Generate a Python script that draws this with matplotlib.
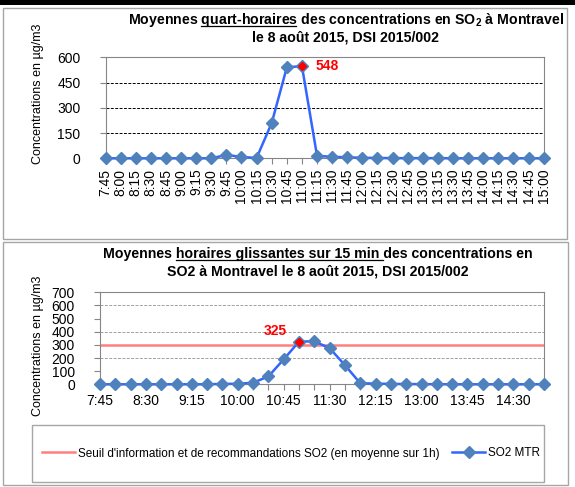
import numpy as np
import matplotlib
matplotlib.use("Agg")
import matplotlib.pyplot as plt
from matplotlib.patches import Rectangle
from matplotlib.lines import Line2D

plt.rcParams['font.family'] = ['Liberation Sans', 'DejaVu Sans']
plt.rcParams['mathtext.fontset'] = 'custom'
plt.rcParams['mathtext.rm'] = 'Liberation Sans:bold'
plt.rcParams['mathtext.bf'] = 'Liberation Sans:bold'
plt.rcParams['mathtext.it'] = 'Liberation Sans:bold'

# heures (pas de 15 min)
heures = ["7:45", "8:00", "8:15", "8:30", "8:45", "9:00", "9:15", "9:30", "9:45", "10:00",
          "10:15", "10:30", "10:45", "11:00", "11:15", "11:30", "11:45", "12:00", "12:15", "12:30",
          "12:45", "13:00", "13:15", "13:30", "13:45", "14:00", "14:15", "14:30", "14:45", "15:00"]
# moyennes quart-horaires SO2
so2_qh = [0, 0, 0, 0, 0, 0, 0, 0, 20, 8,
          2, 210, 540, 548, 14, 9, 6, 3, 2, 1,
          1, 1, 1, 0, 0, 0, 0, 0, 0, 0]
# moyennes horaires glissantes
so2_h = [0, 0, 0, 0, 0, 0, 0, 0, 3, 4,
         12, 60, 190, 325, 327, 275, 145, 8, 5, 3,
         2, 1, 1, 0, 0, 0, 0, 0, 0, 0]
seuil = 300
i_max_qh = 13
i_max_h = 13

W, H = 575, 487
fig = plt.figure(figsize=(W / 100, H / 100), dpi=100)

def fx(px):
    return px / W

def fy(py):
    return 1 - py / H

# bandeau noir + cadres
fig.patches.append(Rectangle((0, fy(5)), 1, 5 / H, transform=fig.transFigure,
                             facecolor='black', edgecolor='none'))
for (x0, y0, x1, y1) in [(3, 8, 567, 239), (3, 242, 568, 485)]:
    fig.patches.append(Rectangle((fx(x0), fy(y1)), (x1 - x0) / W, (y1 - y0) / H,
                                 transform=fig.transFigure, facecolor='none',
                                 edgecolor='#A6A6A6', lw=1))

blue = '#3366FF'
mk = '#4F81BD'
grey = '#868686'
x = np.arange(len(heures))

def style_axes(ax):
    for s in ax.spines.values():
        s.set_color(grey)
        s.set_linewidth(0.8)
    ax.tick_params(axis='both', colors=grey, labelcolor='black', labelsize=10, length=4, width=0.8)

# --- graphique 1 ---
ax1 = fig.add_axes([fx(105.5), fy(158.3), (543.7 - 105.5) / W, (158.3 - 57.3) / H])
for yv in [150, 300, 450]:
    ax1.axhline(yv, color='black', ls=(0, (3, 1.5)), lw=0.7, zorder=1)
ax1.plot(x, so2_qh, color=blue, lw=1.8, marker='D', ms=6, mfc=mk, mec=mk, zorder=3, clip_on=False)
ax1.plot(x[i_max_qh], so2_qh[i_max_qh], marker='D', ms=4.5, color='red', ls='none', zorder=4, clip_on=False)
ax1.text(x[i_max_qh] + 0.9, so2_qh[i_max_qh], str(so2_qh[i_max_qh]), color='red',
         fontsize=10, fontweight='bold', va='center', ha='left')
ax1.set_xlim(0, len(heures) - 1)
ax1.set_ylim(0, 600)
ax1.set_yticks([0, 150, 300, 450, 600])
ax1.set_xticks(x)
ax1.set_xticklabels(heures, rotation=90)
style_axes(ax1)
ax1.tick_params(axis='y', pad=14)
ax1.set_ylabel("Concentrations en µg/m3", fontsize=9)
ax1.yaxis.set_label_coords((44 - 105.5) / 438, (158.3 - 94) / 101)

# --- graphique 2 ---
ax2 = fig.add_axes([fx(100), fy(384.3), (544 - 100) / W, (384.3 - 292.3) / H])
for yv in [200, 400, 600]:
    ax2.axhline(yv, color='#A0A0A0', ls=(0, (3, 1.5)), lw=0.7, zorder=1)
ax2.axhline(seuil, color='#FF7F7F', lw=1.8, zorder=2)
ax2.plot(x, so2_h, color=blue, lw=1.8, marker='D', ms=6, mfc=mk, mec=mk, zorder=3, clip_on=False)
ax2.plot(x[i_max_h], so2_h[i_max_h], marker='D', ms=4.5, color='red', ls='none', zorder=4)
ax2.text(x[i_max_h] - 1.55, so2_h[i_max_h] + 25, str(so2_h[i_max_h]), color='red',
         fontsize=10, fontweight='bold', va='bottom', ha='center')
ax2.set_xlim(0, len(heures) - 1)
ax2.set_ylim(0, 700)
ax2.set_yticks(range(0, 701, 100))
ax2.set_xticks(x[::3])
ax2.set_xticklabels(heures[::3])
ax2.set_xticks(x, minor=True)
style_axes(ax2)
ax2.tick_params(axis='x', which='minor', colors=grey, length=4, width=0.8)
ax2.tick_params(axis='x', pad=3)
ax2.tick_params(axis='y', pad=14)
ax2.set_ylabel("Concentrations en µg/m3", fontsize=9)
ax2.yaxis.set_label_coords((44 - 100) / 444, (384.3 - 346) / 92)

# legende
fig.patches.append(Rectangle((fx(32), fy(482)), (544 - 32) / W, (482 - 425) / H,
                             transform=fig.transFigure, facecolor='none',
                             edgecolor='#A6A6A6', lw=1))
handles = [Line2D([], [], color='#FF7F7F', lw=1.8),
           Line2D([], [], color=blue, lw=1.8, marker='D', ms=6, mfc=mk, mec=mk)]
labels = ["Seuil d'information et de recommandations SO2 (en moyenne sur 1h)", "SO2 MTR"]
fig.legend(handles, labels, loc='center', bbox_to_anchor=(fx(291), fy(453.5)), ncol=2,
           frameon=False, fontsize=8.5, handlelength=2.8, handletextpad=0.2, columnspacing=1.1)

# titres avec soulignement
fig.canvas.draw()
r = fig.canvas.get_renderer()

def title_line(txt, pre, under, xc, yb, size=10.2):
    t = fig.text(fx(xc), fy(yb), txt, ha='center', va='baseline', fontsize=size, fontweight='bold')
    def w(s):
        a = fig.text(0, 0, s, fontsize=size, fontweight='bold')
        v = a.get_window_extent(r).width
        a.remove()
        return v
    if under:
        bb = t.get_window_extent(r)
        bar = w("|")
        x0 = bb.x0 + w(pre + "|") - bar
        x1 = bb.x0 + w(pre + under + "|") - bar
        yl = fy(yb + 2.4)
        fig.lines.append(Line2D([x0 / W, x1 / W], [yl, yl], transform=fig.transFigure,
                                color='black', lw=0.9))

title_line("Moyennes quart-horaires des concentrations en SO$_2$ à Montravel",
           "Moyennes ", "quart-horaires", 346, 24)
title_line("le 8 août 2015, DSI 2015/002", "", "", 346, 41)
title_line("Moyennes horaires glissantes sur 15 min des concentrations en",
           "Moyennes ", "horaires glissantes sur 15 min ", 318, 258)
title_line("SO2 à Montravel le 8 août 2015, DSI 2015/002", "", "", 318, 275)

fig.savefig("out.png", dpi=100)
